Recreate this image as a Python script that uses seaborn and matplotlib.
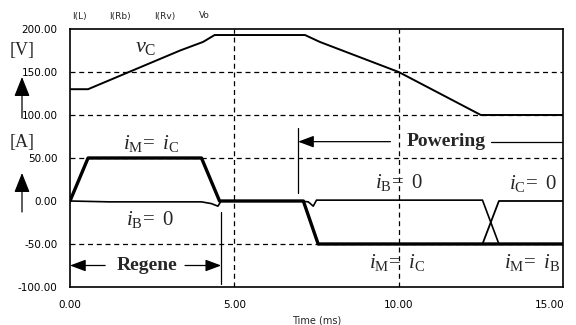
import matplotlib
matplotlib.use("Agg")
import matplotlib.pyplot as plt
import matplotlib.transforms as mtransforms
import pandas as pd
import seaborn as sns

# ---- data ----
t_vc = [0, 0.55, 3.35, 4.05, 4.4, 7.15, 7.6, 9.45, 10.0, 12.5, 15.0]
vc = [130, 130, 175, 185, 193, 193, 185, 158, 150, 100, 100]

t_im = [0, 0.55, 4.0, 4.55, 7.1, 7.55, 15.0]
im = [0, 50, 50, 0, 0, -50, -50]

t_ic = [0, 0.55, 4.0, 4.55, 7.1, 7.55, 12.55, 13.05, 15.0]
ic = [0, 50, 50, 0, 0, -50, -50, 0, 0]

t_ib = [0, 0.6, 1.2, 4.0, 4.3, 4.5, 4.6, 7.0, 7.25, 7.4, 7.5, 12.55, 13.05, 15.0]
ib = [0, -0.5, -1, -1, -3, -6, 0, 0, -1, -6, 1, 1, -50, -50]

x_ticks = [0, 5, 10, 15]
x_ticklabels = ["0.00", "5.00", "10.00", "15.00"]
y_ticks = [-100, -50, 0, 50, 100, 150, 200]
y_ticklabels = ["-100.00", "-50.00", "0.00", "50.00", "100.00", "150.00", "200.00"]
trace_names = ["I(L)", "I(Rb)", "I(Rv)", "Vo"]

sns.set_theme(style="white")
plt.rcParams["font.family"] = ["DejaVu Sans"]
plt.rcParams["mathtext.fontset"] = "custom"
plt.rcParams["mathtext.rm"] = "Liberation Serif"
plt.rcParams["mathtext.it"] = "Liberation Serif:italic"
plt.rcParams["mathtext.bf"] = "Liberation Serif:bold"

W, H = 576, 325
fig = plt.figure(figsize=(W / 100, H / 100), dpi=100)
fig.patch.set_facecolor("white")
ax = fig.add_axes([70 / W, 1 - 287 / H, (563 - 70) / W, (287 - 29) / H])

def series(t, v, name):
    return pd.DataFrame({"t": t, "val": v, "series": name})

df_vc = series(t_vc, vc, "vc")
df_ic = series(t_ic, ic, "ic")
df_ib = series(t_ib, ib, "ib")
df_im = series(t_im, im, "im")

sns.lineplot(data=df_vc, x="t", y="val", color="black", lw=1.4, estimator=None, sort=False, ax=ax)
sns.lineplot(data=df_ib, x="t", y="val", color="black", lw=1.2, estimator=None, sort=False, ax=ax)
sns.lineplot(data=df_ic, x="t", y="val", color="black", lw=1.3, estimator=None, sort=False, ax=ax)
sns.lineplot(data=df_im, x="t", y="val", color="black", lw=2.4, estimator=None, sort=False, ax=ax)

ax.set_xlim(0, 15)
ax.set_ylim(-100, 200)
ax.set_xticks(x_ticks)
ax.set_xticklabels(x_ticklabels)
ax.set_yticks(y_ticks)
ax.set_yticklabels(y_ticklabels)
ax.tick_params(axis="both", length=0, labelsize=7.5, colors="black")
ax.tick_params(axis="x", pad=9)
ax.tick_params(axis="y", pad=9)
ax.set_xlabel("Time (ms)", fontsize=7, labelpad=4)
ax.set_ylabel("")

# last x tick label sits a little left of its tick, as in the reference
last = ax.get_xticklabels()[-1]
last.set_transform(last.get_transform() + mtransforms.ScaledTranslation(-13 / 100, 0, fig.dpi_scale_trans))

for yv in [-50, 50, 100, 150]:
    ax.axhline(yv, color="black", lw=0.9, ls=(0, (4, 3)), zorder=0)
for xv in [5, 10]:
    ax.axvline(xv, color="black", lw=0.9, ls=(0, (4, 3)), zorder=0)

for s in ax.spines.values():
    s.set_color("black")
    s.set_linewidth(1.2)

# trace names above the plot
for name, xp in zip(trace_names, [79, 120, 165, 204]):
    fig.text(xp / W, 1 - 16 / H, name, fontsize=6.5, ha="center", va="center")

# unit labels with up arrows
fig.text(22 / W, 1 - 50 / H, "[V]", fontsize=13, family="Liberation Serif", ha="center", va="center")
fig.text(22 / W, 1 - 142 / H, "[A]", fontsize=13, family="Liberation Serif", ha="center", va="center")
for y0, y1 in [(118, 77), (212, 173)]:
    ax.annotate("", xy=(22 / W, 1 - y1 / H), xytext=(22 / W, 1 - y0 / H),
                xycoords="figure fraction", textcoords="figure fraction",
                arrowprops=dict(arrowstyle="-|>,head_length=1.0,head_width=0.4",
                                color="black", lw=0.9, shrinkA=0, shrinkB=0),
                annotation_clip=False)

serif = "Liberation Serif"
ax.text(2.3, 179, r"$v_{\mathrm{C}}$", fontsize=16, ha="center", va="center")
ax.text(2.46, 67, r"$i_{\mathrm{M}}\!=\ i_{\mathrm{C}}$", fontsize=15, ha="center", va="center")
ax.text(2.43, -22, r"$i_{\mathrm{B}}\!=\ \mathrm{0}$", fontsize=15, ha="center", va="center")
ax.text(10.0, 21, r"$i_{\mathrm{B}}\!=\ \mathrm{0}$", fontsize=15, ha="center", va="center")
ax.text(14.1, 20, r"$i_{\mathrm{C}}\!=\ \mathrm{0}$", fontsize=15, ha="center", va="center")
ax.text(9.95, -72, r"$i_{\mathrm{M}}\!=\ i_{\mathrm{C}}$", fontsize=15, ha="center", va="center")
ax.text(14.05, -72, r"$i_{\mathrm{M}}\!=\ i_{\mathrm{B}}$", fontsize=15, ha="center", va="center")

ax.text(2.33, -75, "Regene", fontsize=14, family=serif, weight="bold", ha="center", va="center")
ax.text(11.45, 69, "Powering", fontsize=14, family=serif, weight="bold", ha="center", va="center")

arrow_kw = dict(arrowstyle="-|>,head_length=0.8,head_width=0.3", color="black", lw=0.9,
                shrinkA=0, shrinkB=0)
# Regene arrows
ax.annotate("", xy=(0.0, -75), xytext=(1.07, -75), arrowprops=arrow_kw)
ax.annotate("", xy=(4.6, -75), xytext=(3.5, -75), arrowprops=arrow_kw)
ax.plot([4.6, 4.6], [-13, -97], color="black", lw=0.9)
# Powering arrows
ax.annotate("", xy=(6.94, 69), xytext=(9.75, 69), arrowprops=arrow_kw)
ax.plot([12.8, 15.0], [69, 69], color="black", lw=0.9)
ax.plot([6.94, 6.94], [85, 9], color="black", lw=0.9)

fig.savefig("out.png", dpi=100, facecolor="white")
